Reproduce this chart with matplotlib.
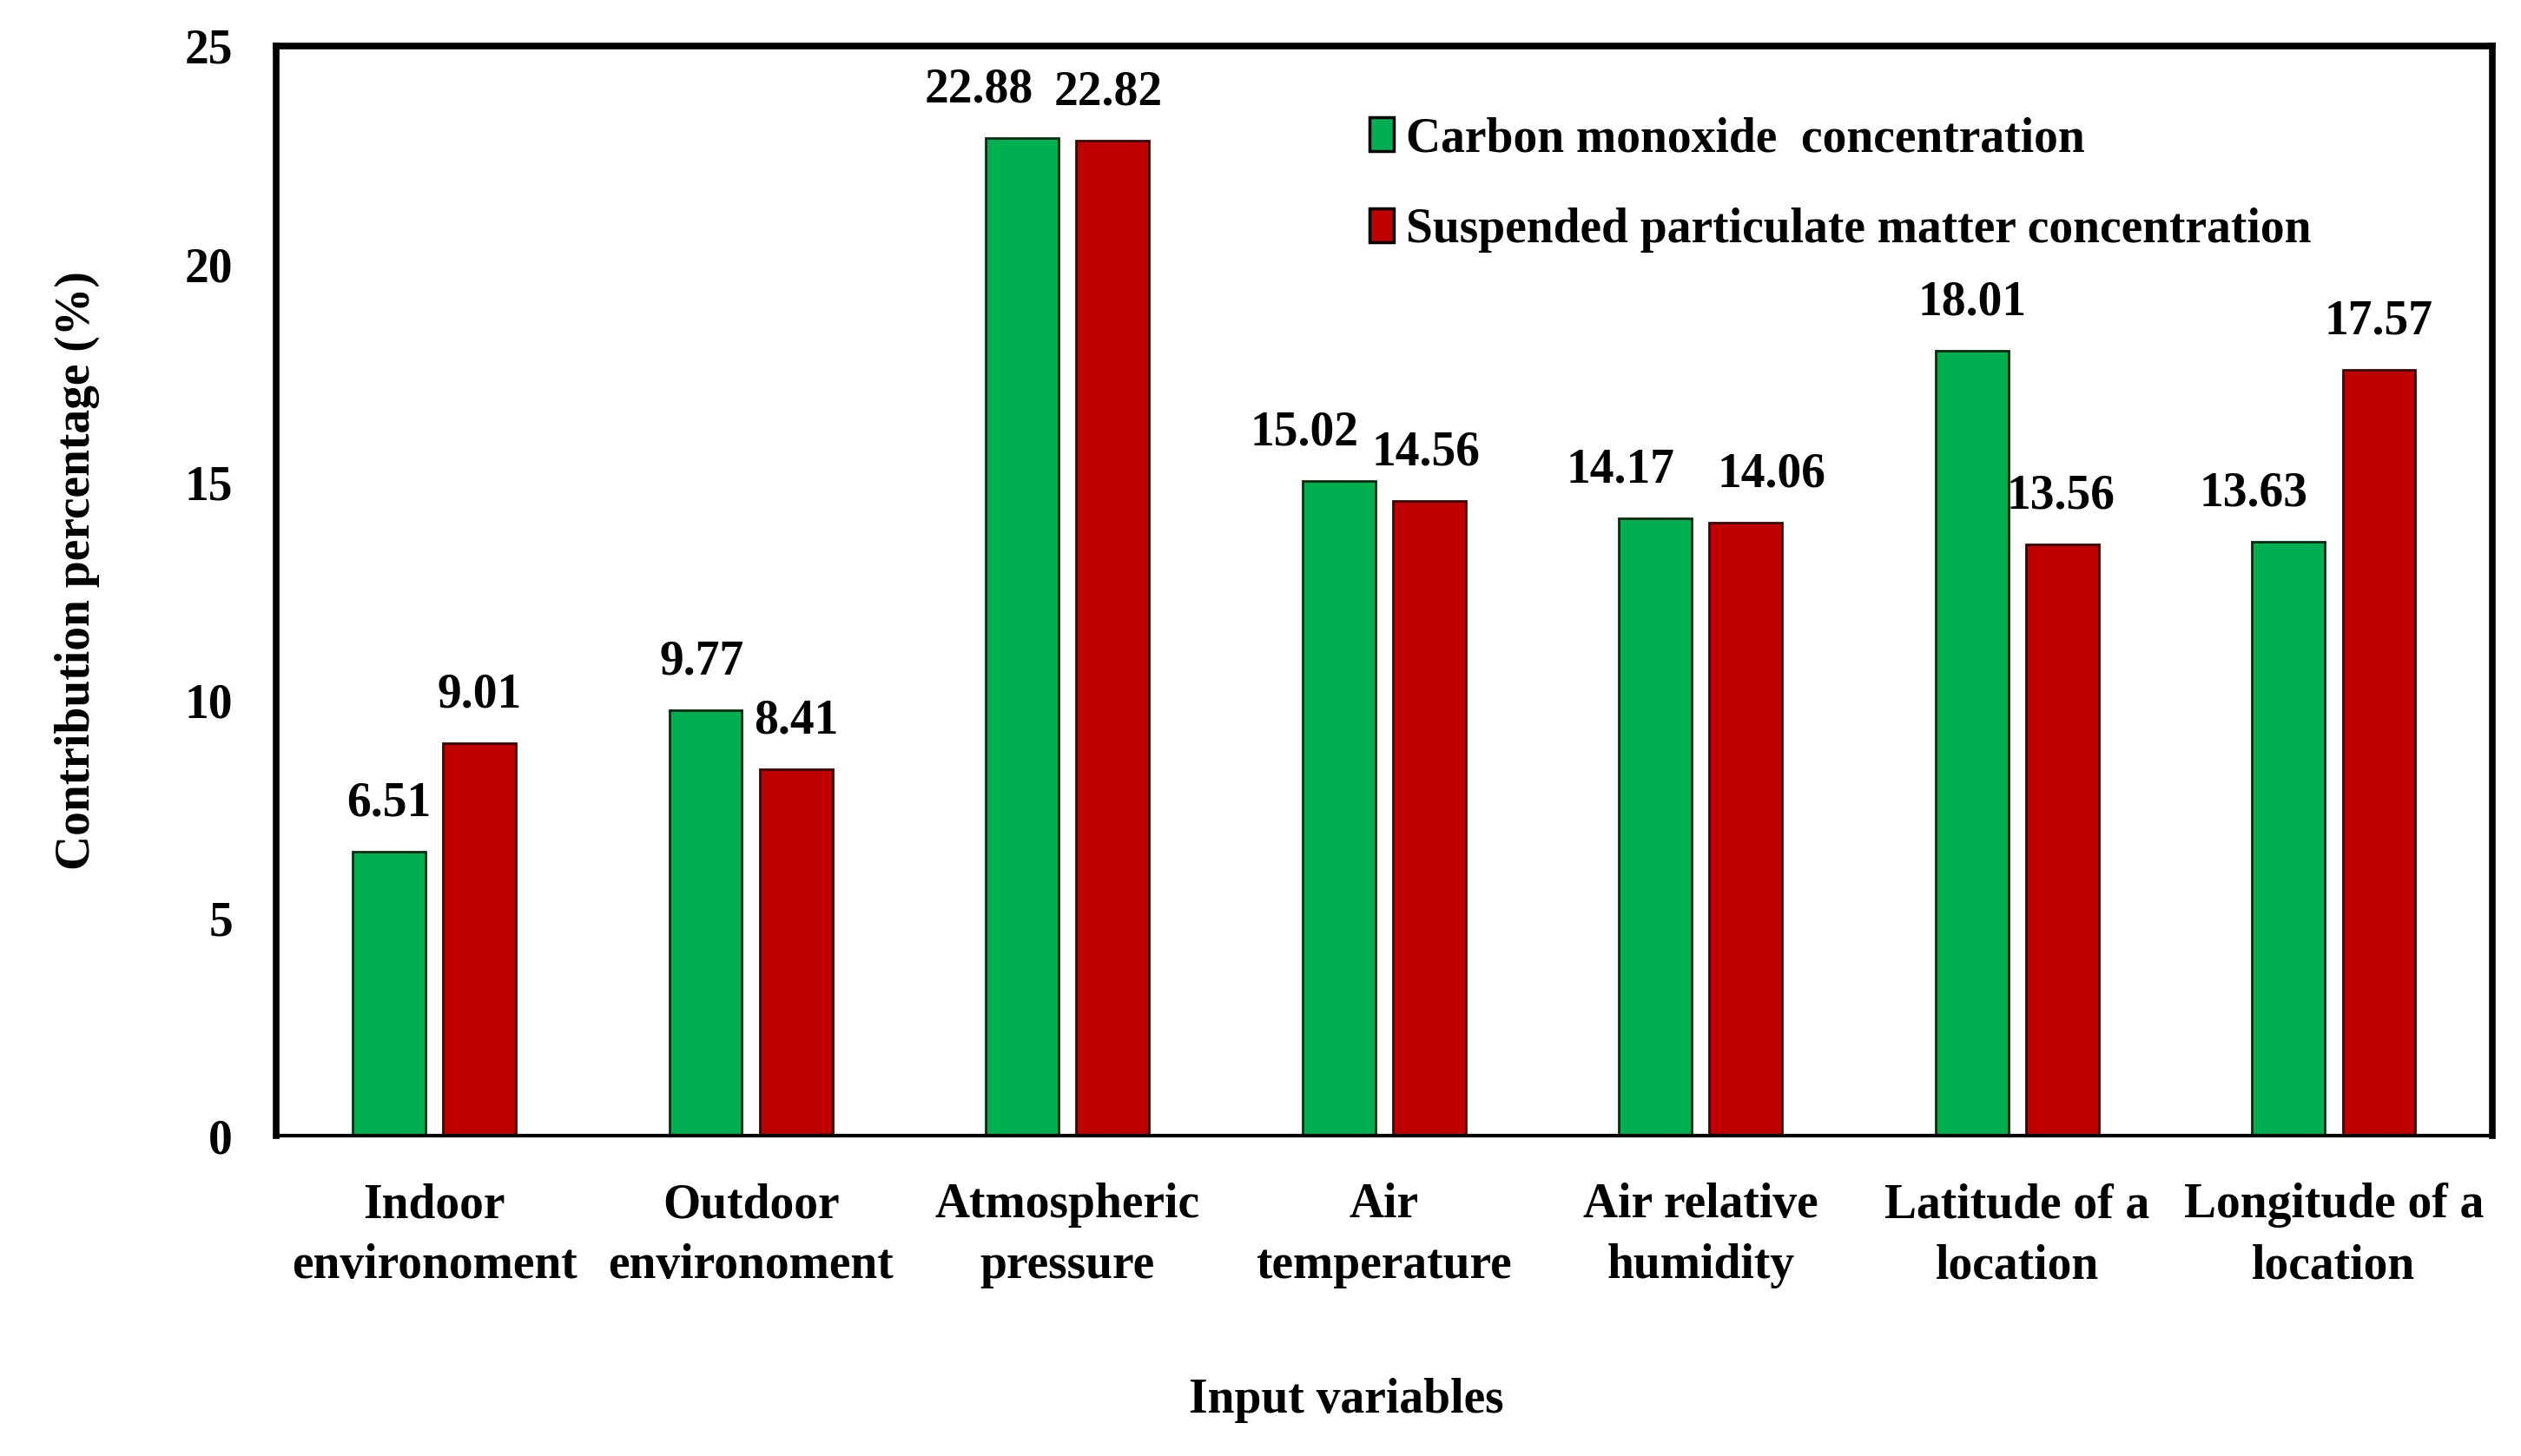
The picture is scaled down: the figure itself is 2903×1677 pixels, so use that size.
import numpy as np
import matplotlib.pyplot as plt

# Data
categories = ['Indoor\nenvironoment', 'Outdoor\nenvironoment', 'Atmospheric\npressure',
              'Air\ntemperature', 'Air relative\nhumidity', 'Latitude of a\nlocation',
              'Longitude of a\nlocation']
co_values = [6.51, 9.77, 22.88, 15.02, 14.17, 18.01, 13.63]
spm_values = [9.01, 8.41, 22.82, 14.56, 14.06, 13.56, 17.57]
series_names = ['Carbon monoxide  concentration', 'Suspended particulate matter concentration']

# small horizontal nudges of the value labels (pixels), as in the original figure
co_nudge = [0, -4, -50, -40, -40, 0, -40]
spm_nudge = [0, 0, -5, -4, 30, -2, 0]

plt.rcParams['font.family'] = ['Liberation Serif', 'DejaVu Serif']
FS = 40

fig = plt.figure(figsize=(29.03, 16.77), dpi=100)
ax = fig.add_axes([0.1095, 0.22, 0.879, 0.7484])

x = np.arange(len(categories))
w = 0.23
off = 0.143
b1 = ax.bar(x - off, co_values, w, color='#00B050', edgecolor='#0a2a10', linewidth=2,
            label=series_names[0])
b2 = ax.bar(x + off, spm_values, w, color='#C00000', edgecolor='#3a0505', linewidth=2,
            label=series_names[1])

for bars, vals, nudge in [(b1, co_values, co_nudge), (b2, spm_values, spm_nudge)]:
    for r, v, dx in zip(bars, vals, nudge):
        ax.annotate(f'{v:.2f}', (r.get_x() + r.get_width() / 2, v),
                    xytext=(dx * 0.72, 40), textcoords='offset points',
                    ha='center', va='center', fontsize=FS, fontweight='bold')

ax.set_xlim(-0.5, len(categories) - 0.5)
ax.set_ylim(0, 25)
ax.set_yticks(np.arange(0, 26, 5))
ax.set_xticks(x)
ax.set_xticklabels(categories, fontsize=FS, fontweight='bold', linespacing=1.45)
ax.tick_params(axis='y', length=0, pad=36, labelsize=FS)
ax.tick_params(axis='x', length=0, pad=39)
for lab in ax.get_yticklabels():
    lab.set_fontweight('bold')

for side in ['top', 'left', 'right']:
    ax.spines[side].set_linewidth(5.5)
ax.spines['bottom'].set_linewidth(3)

leg = ax.legend(loc='upper left', bbox_to_anchor=(0.474, 0.975), frameon=False,
                handlelength=0.5, handleheight=0.7, handletextpad=0.25,
                labelspacing=0.95, prop={'weight': 'bold', 'size': FS})
for h in leg.legend_handles:
    h.set_edgecolor('black')
    h.set_linewidth(2.5)

fig.text(0.0307, 0.608, 'Contribution percentage (%)', rotation=90, ha='center', va='center',
         fontsize=FS, fontweight='bold')
fig.text(0.534, 0.038, 'Input variables', ha='center', va='center',
         fontsize=FS, fontweight='bold')

fig.savefig('out.png', dpi=100)
